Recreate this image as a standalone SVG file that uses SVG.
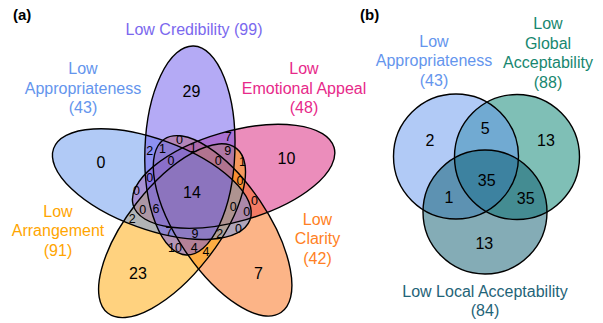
<svg xmlns="http://www.w3.org/2000/svg" xmlns:xlink="http://www.w3.org/1999/xlink" width="603" height="323" viewBox="0 0 603 323">
<style>
text{font-family:"Liberation Sans",Arial,sans-serif;}
.lab{font-size:16px;text-anchor:middle;}
.big{font-size:16px;text-anchor:middle;fill:#000;}
.sm{font-size:12.5px;text-anchor:middle;fill:#000;}
.panel{font-size:15px;font-weight:bold;fill:#000;}
.fill{fill-opacity:0.5;stroke:none;}
.outline{fill:none;stroke:#000;stroke-width:1.4;}
</style>
<defs>
<ellipse id="ell" cx="0" cy="0" rx="45" ry="104.5"/>
</defs>
<rect width="603" height="323" fill="#fff"/>
<text class="panel" x="13" y="19.5">(a)</text>
<text class="panel" x="360" y="19.5">(b)</text>

<g id="set-emotional">
<use xlink:href="#ell" href="#ell" class="fill" fill="#D81B78" transform="translate(194,193.5) rotate(72) translate(-4.1,-43) rotate(2)"/>
<text class="lab" fill="#E7298A" x="304" y="74">Low</text>
<text class="lab" fill="#E7298A" x="304" y="93.5">Emotional Appeal</text>
<text class="lab" fill="#E7298A" x="304" y="113">(48)</text>
</g>
<g id="set-clarity">
<use xlink:href="#ell" href="#ell" class="fill" fill="#FA6A10" transform="translate(194,193.5) rotate(144) translate(-4.1,-43) rotate(2)"/>
<text class="lab" fill="#FF7F24" x="317.5" y="224.5">Low</text>
<text class="lab" fill="#FF7F24" x="317.5" y="244">Clarity</text>
<text class="lab" fill="#FF7F24" x="317.5" y="263.5">(42)</text>
</g>
<g id="set-arrangement">
<use xlink:href="#ell" href="#ell" class="fill" fill="#FFA500" transform="translate(194,193.5) rotate(-144) translate(-4.1,-43) rotate(2)"/>
<text class="lab" fill="#FFA500" x="58" y="216.5">Low</text>
<text class="lab" fill="#FFA500" x="58" y="236">Arrangement</text>
<text class="lab" fill="#FFA500" x="58" y="255.5">(91)</text>
</g>
<g id="set-appropriateness">
<use xlink:href="#ell" href="#ell" class="fill" fill="#6495ED" transform="translate(194,193.5) rotate(-72) translate(-4.1,-43) rotate(2)"/>
<text class="lab" fill="#6495ED" x="83" y="74">Low</text>
<text class="lab" fill="#6495ED" x="83" y="93.5">Appropriateness</text>
<text class="lab" fill="#6495ED" x="83" y="113">(43)</text>
</g>
<g id="set-credibility">
<use xlink:href="#ell" href="#ell" class="fill" fill="#6955EB" transform="translate(194,193.5) translate(-4.1,-43) rotate(2)"/>
<text class="lab" fill="#7B68EE" x="194" y="35">Low Credibility (99)</text>
</g>

<g id="connectors">
<use xlink:href="#ell" href="#ell" class="outline" transform="translate(194,193.5) rotate(72) translate(-4.1,-43) rotate(2)"/>
<use xlink:href="#ell" href="#ell" class="outline" transform="translate(194,193.5) rotate(144) translate(-4.1,-43) rotate(2)"/>
<use xlink:href="#ell" href="#ell" class="outline" transform="translate(194,193.5) rotate(-144) translate(-4.1,-43) rotate(2)"/>
<use xlink:href="#ell" href="#ell" class="outline" transform="translate(194,193.5) rotate(-72) translate(-4.1,-43) rotate(2)"/>
<use xlink:href="#ell" href="#ell" class="outline" transform="translate(194,193.5) translate(-4.1,-43) rotate(2)"/>
</g>

<g id="counts-a">
<text class="big" x="191.5" y="97.3">29</text>
<text class="big" x="101" y="167.8">0</text>
<text class="big" x="286.5" y="164">10</text>
<text class="big" x="138" y="278.5">23</text>
<text class="big" x="258.5" y="278.5">7</text>
<text class="big" x="192" y="198.3">14</text>
<text class="sm" x="149.7" y="155">2</text>
<text class="sm" x="162.5" y="153.3">1</text>
<text class="sm" x="179.6" y="144.3">0</text>
<text class="sm" x="193.3" y="151.5">1</text>
<text class="sm" x="228.3" y="141.3">7</text>
<text class="sm" x="227.7" y="154.5">9</text>
<text class="sm" x="171" y="164.5">0</text>
<text class="sm" x="218.3" y="164.8">0</text>
<text class="sm" x="242.5" y="166.2">1</text>
<text class="sm" x="149.7" y="182.3">0</text>
<text class="sm" x="240" y="185">0</text>
<text class="sm" x="136.4" y="195.3">0</text>
<text class="sm" x="254.6" y="205.3">0</text>
<text class="sm" x="142.7" y="213.8">0</text>
<text class="sm" x="156" y="212.8">6</text>
<text class="sm" x="233.3" y="211">0</text>
<text class="sm" x="246.7" y="215.8">0</text>
<text class="sm" x="132.3" y="222.8">2</text>
<text class="sm" x="169" y="236.2">7</text>
<text class="sm" x="195" y="238">9</text>
<text class="sm" x="219.7" y="238.3">2</text>
<text class="sm" x="238.6" y="232.8">0</text>
<text class="sm" x="175" y="252">10</text>
<text class="sm" x="194.3" y="252">4</text>
<text class="sm" x="206" y="256.2">4</text>
</g>

<g id="set-global">
<circle class="fill" fill="#00806E" cx="517" cy="157" r="62.5"/>
<text class="lab" fill="#17876F" x="548" y="29">Low</text>
<text class="lab" fill="#17876F" x="548" y="48.5">Global</text>
<text class="lab" fill="#17876F" x="548" y="68">Acceptability</text>
<text class="lab" fill="#17876F" x="548" y="87.5">(88)</text>
</g>
<g id="set-appropriateness-b">
<circle class="fill" fill="#6495ED" cx="456" cy="156.5" r="62.5"/>
<text class="lab" fill="#6495ED" x="434" y="46.5">Low</text>
<text class="lab" fill="#6495ED" x="434" y="66">Appropriateness</text>
<text class="lab" fill="#6495ED" x="434" y="85.5">(43)</text>
</g>
<g id="set-local">
<circle class="fill" fill="#0A5A6E" cx="485" cy="212" r="62"/>
<text class="lab" fill="#1F6478" x="485" y="296.5">Low Local Acceptability</text>
<text class="lab" fill="#1F6478" x="485" y="316">(84)</text>
</g>
<g id="connectors-b">
<circle class="outline" cx="517" cy="157" r="62.5"/>
<circle class="outline" cx="456" cy="156.5" r="62.5"/>
<circle class="outline" cx="485" cy="212" r="62"/>
</g>
<g id="counts-b">
<text class="big" x="430" y="145.8">2</text>
<text class="big" x="485.3" y="134">5</text>
<text class="big" x="546" y="145.8">13</text>
<text class="big" x="486.7" y="185.8">35</text>
<text class="big" x="449" y="202.5">1</text>
<text class="big" x="525.7" y="204">35</text>
<text class="big" x="484.3" y="249">13</text>
</g>
</svg>
